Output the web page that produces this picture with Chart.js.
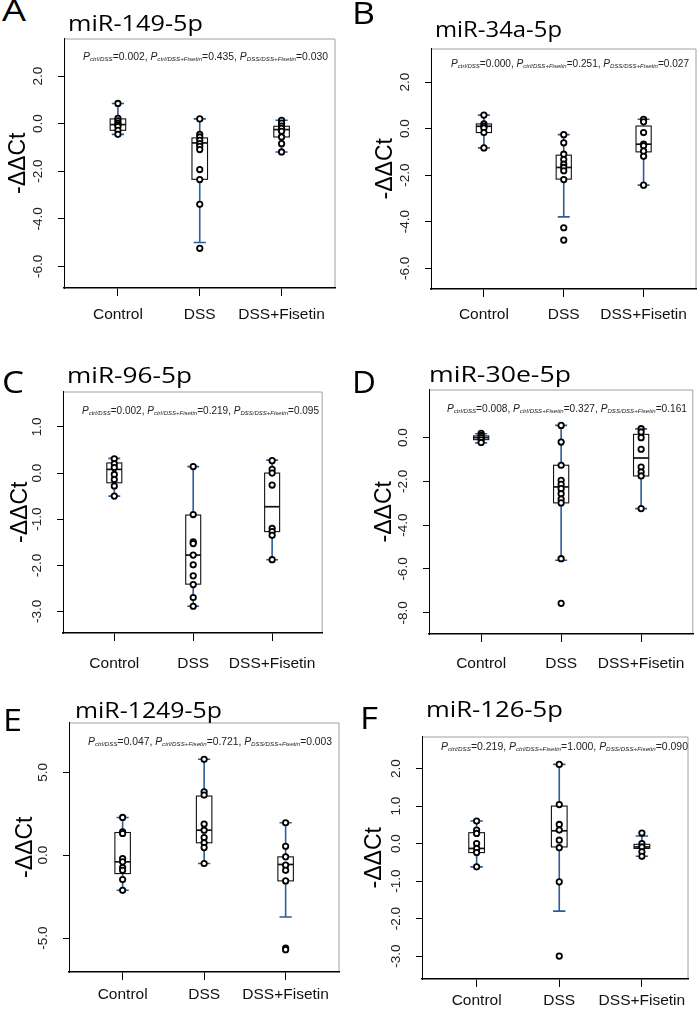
<!DOCTYPE html>
<html><head><meta charset="utf-8">
<script src="https://cdn.jsdelivr.net/npm/chart.js@4.4.0/dist/chart.umd.min.js"></script>
<style>
html,body{margin:0;padding:0;background:#fff;}
#page{position:relative;width:698px;height:1010px;overflow:hidden;background:#fff;}
canvas{position:absolute;}
.lbl{position:absolute;white-space:nowrap;transform-origin:0 50%;line-height:1;}
.letter{font-family:'Open Sans';font-size:31px;color:#000;}
.title{font-family:'Open Sans';font-size:22.5px;color:#000;}
.pv{font-family:'Liberation Sans',Arial,sans-serif;font-size:10px;color:#222;}
.pv sub{font-size:6px;vertical-align:-1px;font-style:italic;}
</style></head><body><div id="page"></div>
<script>
// ---------- shared ----------
const categories = ['Control', 'DSS', 'DSS+Fisetin'];
const yAxisTitle = '-ΔΔCt';
const pLabels = ['ctrl/DSS', 'ctrl/DSS+Fisetin', 'DSS/DSS+Fisetin'];

// ---------- panel A : miR-149-5p ----------
const titleA = 'miR-149-5p';
const pValuesA = ['0.002', '0.435', '0.030'];
const yTicksA = [2, 0, -2, -4, -6];
const ctrlA = [0.85, 0.22, 0.12, 0.02, -0.05, -0.12, -0.28, -0.45];
const dssA = [0.2, -0.45, -0.56, -0.7, -0.84, -0.95, -1.09, -1.93, -2.35, -3.39, -5.24];
const fisA = [0.14, 0.02, -0.1, -0.2, -0.32, -0.56, -0.84, -1.19];
// [whisker low, q1, median, q3, whisker high]
const boxesA = [[-0.45, -0.28, -0.04, 0.2, 0.85], [-5.0, -2.34, -0.81, -0.6, 0.2], [-1.19, -0.56, -0.25, -0.11, 0.14]];

// ---------- panel B : miR-34a-5p ----------
const titleB = 'miR-34a-5p';
const pValuesB = ['0.000', '0.251', '0.027'];
const yTicksB = [2, 0, -2, -4, -6];
const ctrlB = [0.58, 0.2, 0.1, 0.02, -0.17, -0.83];
const dssB = [-0.26, -0.61, -1.1, -1.33, -1.53, -1.67, -1.81, -2.19, -4.26, -4.79];
const fisB = [0.4, 0.29, -0.17, -0.67, -0.74, -0.97, -1.19, -2.43];
const boxesB = [[-0.83, -0.17, 0.1, 0.2, 0.58], [-3.79, -2.17, -1.67, -1.14, -0.26], [-2.43, -1.0, -0.67, 0.11, 0.4]];

// ---------- panel C : miR-96-5p ----------
const titleC = 'miR-96-5p';
const pValuesC = ['0.002', '0.219', '0.095'];
const yTicksC = [1, 0, -1, -2, -3];
const ctrlC = [0.31, 0.2, 0.12, -0.03, -0.14, -0.28, -0.5];
const dssC = [0.14, -0.9, -1.49, -1.53, -1.78, -1.99, -2.23, -2.42, -2.7, -2.89];
const fisC = [0.27, 0.08, 0.0, -0.26, -1.2, -1.27, -1.35, -1.88];
const boxesC = [[-0.5, -0.21, 0.08, 0.22, 0.32], [-2.89, -2.41, -1.78, -0.91, 0.14], [-1.88, -1.27, -0.73, 0.0, 0.28]];

// ---------- panel D : miR-30e-5p ----------
const titleD = 'miR-30e-5p';
const pValuesD = ['0.008', '0.327', '0.161'];
const yTicksD = [0, -2, -4, -6, -8];
const ctrlD = [0.2, 0.1, 0.0, -0.1, -0.22];
const dssD = [0.56, -0.2, -1.26, -1.95, -2.13, -2.33, -2.56, -2.81, -2.98, -5.53, -7.57];
const fisD = [0.41, 0.26, 0.0, -0.53, -1.34, -1.57, -1.75, -3.24];
const boxesD = [[-0.24, -0.09, 0.0, 0.08, 0.18], [-5.6, -2.98, -2.25, -1.26, 0.56], [-3.24, -1.75, -0.93, 0.15, 0.4]];

// ---------- panel E : miR-1249-5p ----------
const titleE = 'miR-1249-5p';
const pValuesE = ['0.047', '0.721', '0.003'];
const yTicksE = [5, 0, -5];
const ctrlE = [2.28, 1.41, 1.31, -0.2, -0.4, -0.75, -0.91, -1.47, -2.12];
const dssE = [5.79, 3.83, 3.63, 1.88, 1.51, 1.07, 0.75, 0.46, -0.5];
const fisE = [1.96, 0.54, -0.1, -0.6, -0.91, -1.55, -5.6, -5.7];
const boxesE = [[-2.12, -1.11, -0.4, 1.37, 2.28], [-0.5, 0.75, 1.51, 3.57, 5.79], [-3.73, -1.55, -0.56, -0.1, 1.96]];

// ---------- panel F : miR-126-5p ----------
const titleF = 'miR-126-5p';
const pValuesF = ['0.219', '1.000', '0.090'];
const yTicksF = [2, 1, 0, -1, -2, -3];
const ctrlF = [0.6, 0.36, 0.27, 0.0, -0.13, -0.24, -0.62];
const dssF = [2.11, 1.04, 0.51, 0.36, 0.09, -0.11, -1.02, -3.0];
const fisF = [0.28, 0.0, -0.09, -0.22, -0.34];
const boxesF = [[-0.62, -0.24, -0.13, 0.29, 0.6], [-1.8, -0.09, 0.34, 1.0, 2.11], [-0.34, -0.13, -0.09, -0.02, 0.2]];

// ---------- layout (positions only) ----------
const panels = [
  {letter:'A', title:titleA, pv:pValuesA, yTicks:yTicksA, groups:[ctrlA,dssA,fisA], boxes:boxesA,
   frame:[64,38,336,288], y:[-6.91,3.58], x:[0.341,3.659], letterPos:[1.7,21.7,24], titlePos:[68.3,32.3,135], pvPos:[83,57,245], xPad:9.7, yTitleOff:45},
  {letter:'B', title:titleB, pv:pValuesB, yTicks:yTicksB, groups:[ctrlB,dssB,fisB], boxes:boxesB,
   frame:[431,48,697,289], y:[-6.89,3.44], x:[0.3375,3.6625], letterPos:[352.3,25,23], titlePos:[435,38.3,127], pvPos:[451,64.3,238], xPad:8.7, yTitleOff:45},
  {letter:'C', title:titleC, pv:pValuesC, yTicks:yTicksC, groups:[ctrlC,dssC,fisC], boxes:boxesC,
   frame:[63,391,326,633], y:[-3.47,1.77], x:[0.35,3.64], letterPos:[1.7,393.3,22], titlePos:[67,384,125], pvPos:[82,411,237], xPad:13.7, yTitleOff:42},
  {letter:'D', title:titleD, pv:pValuesD, yTicks:yTicksD, groups:[ctrlD,dssD,fisD], boxes:boxesD,
   frame:[429,389,694,634], y:[-8.97,2.2], x:[0.348,3.652], letterPos:[352,393.3,24], titlePos:[429,383.3,142], pvPos:[447,409,240], xPad:12.7, yTitleOff:44},
  {letter:'E', title:titleE, pv:pValuesE, yTicks:yTicksE, groups:[ctrlE,dssE,fisE], boxes:boxesE,
   frame:[69,722,340,972], y:[-7.05,8.01], x:[0.342,3.661], letterPos:[3.3,731.7,19], titlePos:[75,719.3,147], pvPos:[88,742.3,244], xPad:5.7, yTitleOff:43},
  {letter:'F', title:titleF, pv:pValuesF, yTicks:yTicksF, groups:[ctrlF,dssF,fisF], boxes:boxesF,
   frame:[422,736,689,979], y:[-3.61,2.854], x:[0.339,3.564], letterPos:[360,730,18], titlePos:[425.7,718.3,137], pvPos:[441,747.3,247], xPad:4.7, yTitleOff:47}
];

const BOX_HALF = 0.095, CAP_HALF = 0.075;
const WHISKER = '#2b5d96';
const AXW = 70, PADT = 4, PADR = 4, XH = 45;
const page = document.getElementById('page');

function addText(cls, html, left, top, targetW) {
  const d = document.createElement('div');
  d.className = 'lbl ' + cls;
  d.innerHTML = html;
  d.style.left = left + 'px';
  d.style.top = top + 'px';
  page.appendChild(d);
  if (targetW) {
    const w = d.getBoundingClientRect().width;
    if (w > 0) d.style.transform = 'scaleX(' + (targetW / w) + ')';
  }
  return d;
}

function makeBoxPlugin(p) {
  return {
    id: 'boxplot' + p.letter,
    beforeDraw(chart) {
      const {ctx, chartArea: {left, top, right, bottom}} = chart;
      ctx.save();
      ctx.strokeStyle = '#a0a0a0'; ctx.lineWidth = 1;
      ctx.beginPath();
      ctx.moveTo(left, top + 0.5); ctx.lineTo(right - 0.5, top + 0.5); ctx.lineTo(right - 0.5, bottom);
      ctx.stroke();
      ctx.restore();
    },
    beforeDatasetsDraw(chart) {
      const xs = chart.scales.x, ys = chart.scales.y, ctx = chart.ctx;
      ctx.save();
      p.boxes.forEach((b, i) => {
        const [lo, q1, med, q3, hi] = b;
        const cx = xs.getPixelForValue(i + 1);
        const bl = xs.getPixelForValue(i + 1 - BOX_HALF), br = xs.getPixelForValue(i + 1 + BOX_HALF);
        const cl = xs.getPixelForValue(i + 1 - CAP_HALF), cr = xs.getPixelForValue(i + 1 + CAP_HALF);
        const yLo = ys.getPixelForValue(lo), yQ1 = ys.getPixelForValue(q1), yMed = ys.getPixelForValue(med),
              yQ3 = ys.getPixelForValue(q3), yHi = ys.getPixelForValue(hi);
        ctx.strokeStyle = WHISKER; ctx.lineWidth = 1.6;
        ctx.beginPath();
        ctx.moveTo(cx, yHi); ctx.lineTo(cx, yQ3);
        ctx.moveTo(cx, yQ1); ctx.lineTo(cx, yLo);
        ctx.moveTo(cl, yHi); ctx.lineTo(cr, yHi);
        ctx.moveTo(cl, yLo); ctx.lineTo(cr, yLo);
        ctx.stroke();
        ctx.fillStyle = '#fff';
        ctx.fillRect(bl, yQ3, br - bl, yQ1 - yQ3);
        ctx.strokeStyle = '#111'; ctx.lineWidth = 1.1;
        ctx.strokeRect(bl, yQ3, br - bl, yQ1 - yQ3);
        ctx.lineWidth = 1.7;
        ctx.beginPath(); ctx.moveTo(bl, yMed); ctx.lineTo(br, yMed); ctx.stroke();
      });
      ctx.restore();
    },
    afterDraw(chart) {
      const ys = chart.scales.y, ctx = chart.ctx;
      ctx.save();
      ctx.font = '13.5px "Liberation Sans", Arial, sans-serif';
      ctx.fillStyle = '#222'; ctx.textAlign = 'center'; ctx.textBaseline = 'middle';
      p.yTicks.forEach(v => {
        const py = ys.getPixelForValue(v);
        ctx.save();
        ctx.translate(chart.chartArea.left - 26, py);
        ctx.rotate(-Math.PI / 2);
        ctx.fillText(v.toFixed(1), 0, 0);
        ctx.restore();
      });
      ctx.restore();
    }
  };
}

function buildPanel(p) {
  const [fl, ft, fr, fb] = p.frame;
  const cw = (fr - fl) + AXW + PADR, ch = (fb - ft) + PADT + XH;
  const canvas = document.createElement('canvas');
  canvas.width = cw; canvas.height = ch;
  canvas.style.left = (fl - AXW) + 'px'; canvas.style.top = (ft - PADT) + 'px';
  canvas.style.width = cw + 'px'; canvas.style.height = ch + 'px';
  page.appendChild(canvas);

  const pts = [];
  p.groups.forEach((g, i) => g.forEach(v => pts.push({x: i + 1, y: v})));

  const titleFont = {family: '"Liberation Sans", Arial, sans-serif', size: 23};
  const lh = 23 * 1.2;

  new Chart(canvas, {
    type: 'scatter',
    data: {datasets: [{data: pts, pointRadius: 2.7, pointHoverRadius: 2.7, pointBorderWidth: 1.8,
      pointBorderColor: '#000', pointBackgroundColor: '#fff', showLine: false}]},
    options: {
      responsive: false, animation: false, devicePixelRatio: 1,
      layout: {padding: {top: PADT, right: PADR, left: 0, bottom: 0}},
      plugins: {legend: {display: false}, tooltip: {enabled: false}},
      scales: {
        x: {
          type: 'linear', min: p.x[0], max: p.x[1],
          afterBuildTicks: s => { s.ticks = categories.map((c, i) => ({value: i + 1})); },
          afterFit: s => { s.height = XH; },
          ticks: {callback: v => categories[Math.round(v) - 1] || '', autoSkip: false, maxRotation: 0,
            font: {family: '"Liberation Sans", Arial, sans-serif', size: 15.5}, color: '#111', padding: p.xPad},
          grid: {drawOnChartArea: false, tickLength: 8, color: '#000', lineWidth: 1},
          border: {color: '#000', width: 1.5}
        },
        y: {
          type: 'linear', min: p.y[0], max: p.y[1],
          afterBuildTicks: s => { s.ticks = p.yTicks.map(v => ({value: v})); },
          afterFit: s => { s.width = AXW; },
          ticks: {display: false},
          grid: {drawOnChartArea: false, tickLength: 6, color: '#000', lineWidth: 1},
          border: {color: '#000', width: 1},
          title: {display: true, text: yAxisTitle, font: titleFont, color: '#000',
            padding: {top: AXW - p.yTitleOff - lh / 2, bottom: 0}}
        }
      }
    },
    plugins: [makeBoxPlugin(p)]
  });

  // letter, title, p-values
  addText('letter', p.letter, p.letterPos[0], p.letterPos[1] - 31 * 0.888, p.letterPos[2]);
  addText('title', p.title, p.titlePos[0], p.titlePos[1] - 22.5 * 0.888, p.titlePos[2]);
  const pvHtml = p.pv.map((v, i) => '<i>P</i><sub>' + pLabels[i] + '</sub>=' + v).join(', ');
  addText('pv', pvHtml, p.pvPos[0], p.pvPos[1] - 5, p.pvPos[2]);
}

panels.forEach(buildPanel);
</script></body></html>
